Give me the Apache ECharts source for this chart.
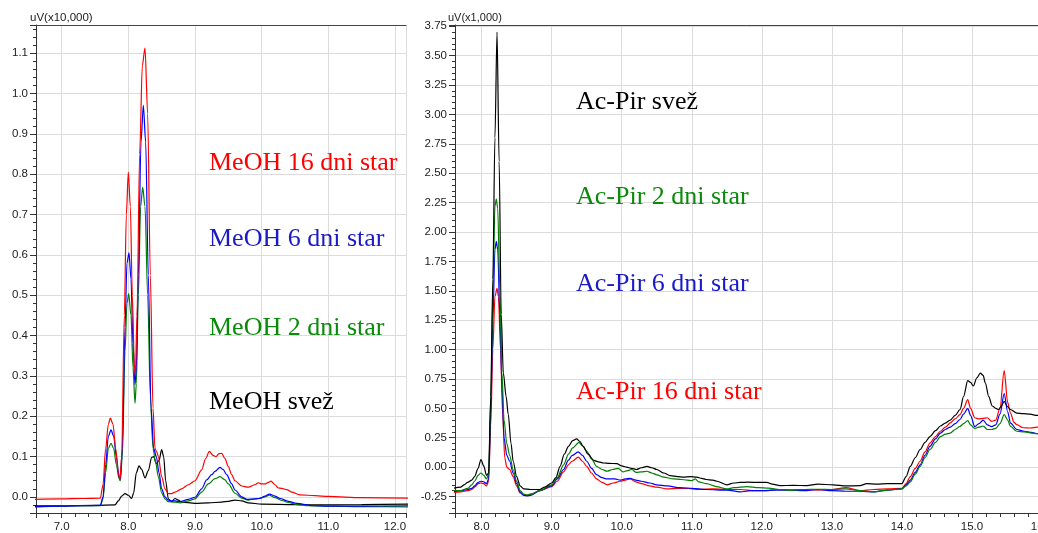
<!DOCTYPE html>
<html>
<head>
<meta charset="utf-8">
<script src="https://cdn.jsdelivr.net/npm/echarts@6/dist/echarts.min.js"></script>
<style>
  html, body { margin: 0; padding: 0; background: #fff; }
  #chart { width: 1038px; height: 533px; }
</style>
</head>
<body>
<div id="chart"></div>
<script>
// retention time (min) / signal pairs

// left panel: MeOH extracts, uV (x10,000)
const meohFresh = [
  [6.6,-0.022],[7.0,-0.022],[7.5,-0.021],[7.8,-0.02],[7.85,-0.01],[7.9,0.002],[7.95,0.008],[8.0,0.004],
  [8.05,-0.004],[8.08,0.01],[8.12,0.06],[8.16,0.077],[8.2,0.068],[8.25,0.047],[8.3,0.065],[8.35,0.098],
  [8.38,0.1],[8.42,0.082],[8.46,0.09],[8.5,0.117],[8.53,0.1],[8.56,0.04],[8.6,-0.005],[8.65,-0.012],
  [8.7,-0.004],[8.75,-0.008],[8.8,-0.013],[9.0,-0.016],[9.2,-0.015],[9.4,-0.013],[9.5,-0.011],[9.6,-0.008],
  [9.7,-0.01],[9.8,-0.015],[10.0,-0.018],[10.5,-0.019],[11.0,-0.02],[11.5,-0.019],[12.2,-0.018]
]
const meoh2 = [
  [6.6,-0.025],[7.0,-0.023],[7.3,-0.022],[7.58,-0.022],[7.62,-0.005],[7.66,0.06],[7.7,0.12],[7.74,0.133],
  [7.78,0.12],[7.82,0.08],[7.86,0.045],[7.88,0.04],[7.91,0.1],[7.95,0.36],[7.98,0.48],[8.005,0.504],
  [8.04,0.45],[8.07,0.32],[8.1,0.232],[8.12,0.28],[8.15,0.5],[8.185,0.72],[8.215,0.768],[8.25,0.72],
  [8.29,0.5],[8.33,0.25],[8.37,0.12],[8.41,0.085],[8.45,0.05],[8.5,0.01],[8.55,-0.005],[8.6,-0.012],
  [8.7,-0.013],[8.775,-0.015],[8.9,-0.01],[9.0,-0.005],[9.1,0.012],[9.2,0.032],[9.3,0.045],[9.375,0.05],
  [9.45,0.042],[9.5,0.032],[9.6,0.009],[9.7,-0.003],[9.8,-0.008],[9.95,-0.004],[10.05,0.0],[10.115,0.004],
  [10.2,-0.002],[10.3,-0.009],[10.4,-0.014],[10.525,-0.019],[10.7,-0.022],[11.0,-0.023],[11.5,-0.024],[12.2,-0.025]
]
const meoh6 = [
  [6.6,-0.024],[7.0,-0.023],[7.3,-0.022],[7.58,-0.021],[7.62,0.0],[7.66,0.08],[7.7,0.15],[7.74,0.166],
  [7.78,0.15],[7.82,0.1],[7.86,0.05],[7.88,0.045],[7.91,0.12],[7.95,0.42],[7.98,0.58],[8.01,0.605],
  [8.04,0.54],[8.07,0.38],[8.1,0.278],[8.12,0.32],[8.15,0.55],[8.19,0.88],[8.225,0.971],[8.26,0.88],
  [8.3,0.55],[8.34,0.22],[8.38,0.12],[8.42,0.1],[8.46,0.06],[8.5,0.02],[8.55,0.0],[8.6,-0.008],
  [8.65,-0.01],[8.7,-0.01],[8.775,-0.012],[8.9,-0.006],[9.0,-0.001],[9.1,0.02],[9.175,0.042],[9.25,0.055],
  [9.3,0.063],[9.375,0.073],[9.42,0.068],[9.475,0.055],[9.55,0.032],[9.6,0.017],[9.7,0.0],[9.775,-0.006],
  [9.9,-0.005],[9.975,-0.004],[10.05,0.002],[10.115,0.007],[10.2,0.002],[10.275,-0.004],[10.4,-0.011],
  [10.525,-0.016],[10.775,-0.022],[11.0,-0.023],[11.5,-0.023],[12.2,-0.022]
]
const meoh16 = [
  [6.6,-0.006],[7.0,-0.005],[7.3,-0.004],[7.58,-0.003],[7.62,0.03],[7.66,0.12],[7.7,0.18],[7.73,0.195],
  [7.77,0.18],[7.81,0.12],[7.85,0.06],[7.875,0.042],[7.9,0.1],[7.94,0.45],[7.97,0.7],[8.0,0.805],
  [8.03,0.72],[8.06,0.5],[8.09,0.33],[8.105,0.3],[8.13,0.45],[8.17,0.85],[8.21,1.07],[8.25,1.113],
  [8.29,0.95],[8.33,0.55],[8.37,0.22],[8.4,0.12],[8.425,0.112],[8.45,0.1],[8.5,0.05],[8.55,0.02],
  [8.6,0.008],[8.65,0.008],[8.7,0.012],[8.8,0.02],[8.9,0.03],[9.0,0.04],[9.1,0.067],[9.16,0.095],
  [9.215,0.113],[9.27,0.103],[9.315,0.1],[9.36,0.107],[9.4,0.108],[9.45,0.095],[9.5,0.075],[9.55,0.055],
  [9.6,0.04],[9.7,0.027],[9.8,0.024],[9.9,0.03],[9.95,0.035],[10.0,0.032],[10.05,0.032],[10.1,0.036],
  [10.14,0.039],[10.2,0.03],[10.25,0.022],[10.3,0.021],[10.375,0.018],[10.45,0.012],[10.575,0.005],
  [10.8,0.003],[11.0,0.001],[11.5,-0.002],[12.2,-0.003]
]

// right panel: Ac-Pir extracts, uV (x1,000)
const acpirFresh = [
  [7.6,-0.18],[7.7,-0.17],[7.75,-0.15],[7.8,-0.13],[7.86,-0.11],[7.9,-0.08],[7.95,-0.01],[7.99,0.065],
  [8.03,0.01],[8.07,-0.07],[8.1,-0.05],[8.13,0.6],[8.16,1.6],[8.19,2.8],[8.22,3.7],[8.25,2.6],
  [8.28,1.3],[8.31,0.8],[8.35,0.6],[8.38,0.45],[8.42,0.2],[8.45,0.05],[8.5,-0.08],[8.55,-0.16],
  [8.6,-0.185],[8.7,-0.19],[8.83,-0.19],[8.9,-0.17],[9.0,-0.135],[9.06,-0.09],[9.12,0.007],[9.18,0.11],
  [9.24,0.177],[9.3,0.225],[9.357,0.24],[9.4,0.22],[9.45,0.177],[9.52,0.11],[9.6,0.058],[9.67,0.045],
  [9.74,0.035],[9.82,0.032],[9.93,0.03],[10.0,0.01],[10.07,0.0],[10.14,-0.01],[10.21,-0.02],[10.28,-0.005],
  [10.36,0.006],[10.43,-0.005],[10.5,-0.02],[10.6,-0.05],[10.69,-0.072],[10.8,-0.08],[10.88,-0.085],
  [10.98,-0.08],[11.07,-0.085],[11.14,-0.095],[11.21,-0.105],[11.3,-0.11],[11.36,-0.12],[11.5,-0.15],
  [11.6,-0.135],[11.69,-0.13],[11.8,-0.128],[11.95,-0.13],[12.07,-0.13],[12.15,-0.145],[12.26,-0.157],
  [12.45,-0.155],[12.64,-0.157],[12.8,-0.145],[13.02,-0.15],[13.2,-0.16],[13.4,-0.157],[13.5,-0.14],
  [13.64,-0.145],[13.8,-0.14],[14.0,-0.14],[14.06,-0.08],[14.12,0.007],[14.19,0.08],[14.26,0.15],
  [14.33,0.21],[14.4,0.26],[14.48,0.31],[14.55,0.35],[14.62,0.375],[14.69,0.4],[14.76,0.44],[14.83,0.49],
  [14.88,0.6],[14.94,0.736],[14.98,0.72],[15.02,0.69],[15.07,0.76],[15.12,0.8],[15.16,0.78],[15.19,0.717],
  [15.24,0.6],[15.29,0.52],[15.34,0.5],[15.38,0.49],[15.42,0.52],[15.46,0.56],[15.5,0.52],[15.55,0.49],
  [15.64,0.46],[15.73,0.455],[15.83,0.45],[15.93,0.44],[16.0,0.44]
]
const acpir2 = [
  [7.6,-0.2],[7.7,-0.2],[7.8,-0.18],[7.86,-0.15],[7.9,-0.12],[7.95,-0.07],[7.99,-0.05],[8.03,-0.07],
  [8.07,-0.1],[8.1,-0.06],[8.13,0.55],[8.16,1.45],[8.19,2.22],[8.21,2.28],[8.23,2.2],[8.26,1.5],
  [8.29,0.8],[8.32,0.4],[8.36,0.2],[8.4,0.1],[8.45,-0.02],[8.5,-0.12],[8.55,-0.2],[8.6,-0.23],
  [8.65,-0.235],[8.7,-0.23],[8.83,-0.2],[9.0,-0.15],[9.08,-0.09],[9.17,0.02],[9.24,0.11],[9.3,0.163],
  [9.39,0.21],[9.44,0.18],[9.5,0.135],[9.57,0.07],[9.64,0.007],[9.72,-0.02],[9.79,-0.035],[9.87,-0.02],
  [9.95,-0.01],[10.02,-0.04],[10.08,-0.03],[10.14,-0.02],[10.21,-0.045],[10.28,-0.04],[10.36,-0.035],
  [10.43,-0.05],[10.5,-0.065],[10.6,-0.085],[10.74,-0.1],[10.85,-0.105],[10.93,-0.11],[11.0,-0.115],
  [11.05,-0.1],[11.1,-0.125],[11.21,-0.14],[11.35,-0.165],[11.5,-0.185],[11.6,-0.175],[11.79,-0.165],
  [11.95,-0.175],[12.1,-0.178],[12.25,-0.19],[12.4,-0.197],[12.6,-0.19],[12.8,-0.188],[13.0,-0.19],
  [13.2,-0.185],[13.4,-0.2],[13.6,-0.21],[13.8,-0.195],[14.0,-0.185],[14.06,-0.16],[14.12,-0.125],
  [14.19,-0.06],[14.26,0.007],[14.33,0.08],[14.4,0.15],[14.48,0.21],[14.55,0.26],[14.62,0.28],[14.69,0.29],
  [14.76,0.32],[14.83,0.347],[14.88,0.37],[14.94,0.395],[14.98,0.36],[15.04,0.33],[15.1,0.34],[15.16,0.35],
  [15.22,0.32],[15.28,0.32],[15.34,0.33],[15.4,0.37],[15.46,0.447],[15.51,0.4],[15.55,0.347],[15.64,0.305],
  [15.75,0.3],[15.85,0.29],[15.93,0.285],[16.0,0.285]
]
const acpir6 = [
  [7.6,-0.21],[7.7,-0.2],[7.8,-0.19],[7.86,-0.18],[7.9,-0.16],[7.95,-0.13],[7.99,-0.12],[8.03,-0.125],
  [8.07,-0.14],[8.1,-0.1],[8.13,0.45],[8.16,1.25],[8.19,1.85],[8.21,1.92],[8.23,1.85],[8.26,1.3],
  [8.29,0.7],[8.32,0.25],[8.36,0.1],[8.4,0.05],[8.45,-0.05],[8.5,-0.14],[8.55,-0.21],[8.6,-0.24],
  [8.65,-0.245],[8.7,-0.24],[8.83,-0.2],[9.0,-0.16],[9.08,-0.1],[9.17,-0.02],[9.24,0.06],[9.29,0.098],
  [9.38,0.13],[9.44,0.1],[9.5,0.05],[9.57,-0.01],[9.64,-0.064],[9.72,-0.09],[9.79,-0.1],[9.9,-0.1],
  [9.98,-0.11],[10.05,-0.1],[10.12,-0.095],[10.2,-0.11],[10.28,-0.12],[10.4,-0.135],[10.5,-0.15],
  [10.65,-0.16],[10.83,-0.175],[11.0,-0.18],[11.2,-0.19],[11.5,-0.195],[11.69,-0.21],[11.85,-0.2],
  [12.0,-0.2],[12.2,-0.195],[12.4,-0.195],[12.6,-0.2],[12.8,-0.19],[13.0,-0.2],[13.2,-0.205],[13.4,-0.205],
  [13.6,-0.21],[13.8,-0.195],[14.0,-0.185],[14.06,-0.15],[14.12,-0.11],[14.19,-0.045],[14.26,0.02],
  [14.33,0.1],[14.4,0.177],[14.48,0.24],[14.55,0.29],[14.62,0.32],[14.69,0.34],[14.76,0.37],[14.83,0.405],
  [14.88,0.45],[14.94,0.5],[14.98,0.44],[15.04,0.345],[15.1,0.37],[15.16,0.4],[15.22,0.36],[15.28,0.345],
  [15.34,0.36],[15.4,0.45],[15.46,0.625],[15.51,0.47],[15.55,0.375],[15.64,0.32],[15.75,0.305],
  [15.85,0.295],[15.93,0.285],[16.0,0.285]
]
const acpir16 = [
  [7.6,-0.215],[7.7,-0.21],[7.8,-0.2],[7.86,-0.19],[7.9,-0.17],[7.95,-0.14],[7.99,-0.135],[8.03,-0.14],
  [8.07,-0.16],[8.1,-0.12],[8.13,0.35],[8.16,1.0],[8.19,1.45],[8.22,1.52],[8.24,1.45],[8.27,1.0],
  [8.3,0.45],[8.33,0.08],[8.36,0.0],[8.4,-0.02],[8.45,-0.08],[8.5,-0.16],[8.55,-0.22],[8.6,-0.235],
  [8.65,-0.24],[8.7,-0.23],[8.83,-0.2],[9.0,-0.165],[9.08,-0.12],[9.17,-0.04],[9.24,0.02],[9.29,0.05],
  [9.38,0.085],[9.44,0.05],[9.5,0.007],[9.57,-0.05],[9.64,-0.1],[9.72,-0.13],[9.79,-0.15],[9.88,-0.135],
  [9.98,-0.12],[10.05,-0.11],[10.12,-0.1],[10.2,-0.125],[10.28,-0.14],[10.4,-0.16],[10.5,-0.17],
  [10.65,-0.185],[10.8,-0.18],[10.95,-0.18],[11.1,-0.19],[11.3,-0.185],[11.5,-0.19],[11.7,-0.19],
  [11.9,-0.2],[12.07,-0.2],[12.2,-0.19],[12.4,-0.195],[12.6,-0.19],[12.8,-0.195],[13.0,-0.19],
  [13.2,-0.175],[13.4,-0.2],[13.6,-0.19],[13.8,-0.185],[14.0,-0.18],[14.06,-0.14],[14.12,-0.08],
  [14.19,-0.01],[14.26,0.05],[14.33,0.13],[14.4,0.205],[14.48,0.26],[14.55,0.305],[14.62,0.34],
  [14.69,0.376],[14.76,0.41],[14.83,0.447],[14.88,0.5],[14.94,0.574],[14.98,0.5],[15.04,0.42],[15.1,0.41],
  [15.16,0.415],[15.22,0.42],[15.28,0.39],[15.34,0.4],[15.4,0.5],[15.46,0.82],[15.51,0.55],[15.55,0.46],
  [15.6,0.38],[15.64,0.362],[15.73,0.335],[15.83,0.333],[15.93,0.34],[16.0,0.34]
]

const meohNames = ['MeOH 16 dni star', 'MeOH 6 dni star', 'MeOH 2 dni star', 'MeOH svež']
const acpirNames = ['Ac-Pir svež', 'Ac-Pir 2 dni star', 'Ac-Pir 6 dni star', 'Ac-Pir 16 dni star']
const unitLabels = ['uV(x10,000)', 'uV(x1,000)']

const RED = '#ff0000'
const BLUE = '#0000ff'
const GREEN = '#008000'
const BLACK = '#000000'
const sans = 'Liberation Sans, Arial, sans-serif'
const serif = 'Liberation Serif, Times New Roman, serif'

const chart = echarts.init(document.getElementById('chart'))

const axisLine = { show: true, onZero: false, lineStyle: { color: '#333', width: 1 } }
const splitLine = { show: true, lineStyle: { color: '#dcdcdc', width: 1 } }

function bottomAxis(grid, min, max) {
  return {
    type: 'value', gridIndex: grid, position: 'bottom', min, max,
    minInterval: 1, maxInterval: 1,
    axisLine,
    axisTick: { show: true, length: 5, lineStyle: { color: '#333' } },
    minorTick: { show: true, splitNumber: 5, length: 4, lineStyle: { color: '#333' } },
    axisLabel: {
      color: '#222', fontFamily: sans, fontSize: 11.5, margin: 8,
      showMinLabel: false,
      formatter: v => v.toFixed(1)
    },
    splitLine
  }
}

function topAxis(grid, min, max) {
  return {
    type: 'value', gridIndex: grid, position: 'top', min, max,
    axisLine: { show: true, onZero: false, lineStyle: { color: '#444', width: 1 } },
    axisTick: { show: false }, axisLabel: { show: false }, splitLine: { show: false }
  }
}

function leftAxis(grid, min, max, step, digits) {
  return {
    type: 'value', gridIndex: grid, min, max,
    minInterval: step, maxInterval: step,
    axisLine,
    axisTick: { show: true, length: 6, lineStyle: { color: '#333' } },
    minorTick: { show: true, splitNumber: 5, length: 3, lineStyle: { color: '#333' } },
    axisLabel: {
      color: '#222', fontFamily: sans, fontSize: 11.5, margin: 8,
      showMinLabel: false, showMaxLabel: false,
      formatter: v => v.toFixed(digits)
    },
    splitLine
  }
}

function trace(data, color, xi, yi) {
  return {
    type: 'line', data, xAxisIndex: xi, yAxisIndex: yi,
    showSymbol: false, symbol: 'none',
    smooth: 0.3, smoothMonotone: 'x',
    lineStyle: { color, width: 1.2 },
    silent: true
  }
}

function note(text, color, left, y) {
  return {
    type: 'text', left, top: y - 11, z: 10,
    style: { text, fill: color, font: '26px ' + serif }
  }
}

chart.setOption({
  animation: false,
  backgroundColor: '#fff',
  grid: [
    { left: 36, top: 25, width: 370, height: 488, outerBoundsMode: 'none', containLabel: false },
    { left: 455, top: 25, width: 587, height: 488, outerBoundsMode: 'none', containLabel: false }
  ],
  xAxis: [
    bottomAxis(0, 6.615, 12.165),
    topAxis(0, 6.615, 12.165),
    bottomAxis(1, 7.62, 16.0),
    topAxis(1, 7.62, 16.0)
  ],
  yAxis: [
    leftAxis(0, -0.04, 1.17, 0.1, 1),
    leftAxis(1, -0.39, 3.76, 0.25, 2)
  ],
  series: [
    trace(meohFresh, BLACK, 0, 0),
    trace(meoh2, GREEN, 0, 0),
    trace(meoh6, BLUE, 0, 0),
    trace(meoh16, RED, 0, 0),
    trace(acpir16, RED, 2, 1),
    trace(acpir6, BLUE, 2, 1),
    trace(acpir2, GREEN, 2, 1),
    trace(acpirFresh, BLACK, 2, 1)
  ],
  graphic: [
    { type: 'text', left: 30, top: 12, style: { text: unitLabels[0], fill: '#222', font: '11.5px ' + sans } },
    { type: 'text', left: 448, top: 12, style: { text: unitLabels[1], fill: '#222', font: '11px ' + sans } },
    note(meohNames[0], RED, 209, 161),
    note(meohNames[1], '#1a1ac8', 209, 237),
    note(meohNames[2], '#0a8a0a', 209, 326),
    note(meohNames[3], BLACK, 209, 400),
    note(acpirNames[0], BLACK, 576, 100),
    note(acpirNames[1], '#0a8a0a', 576, 195),
    note(acpirNames[2], '#1a1ac8', 576, 282),
    note(acpirNames[3], RED, 576, 390)
  ]
})
</script>
</body>
</html>
